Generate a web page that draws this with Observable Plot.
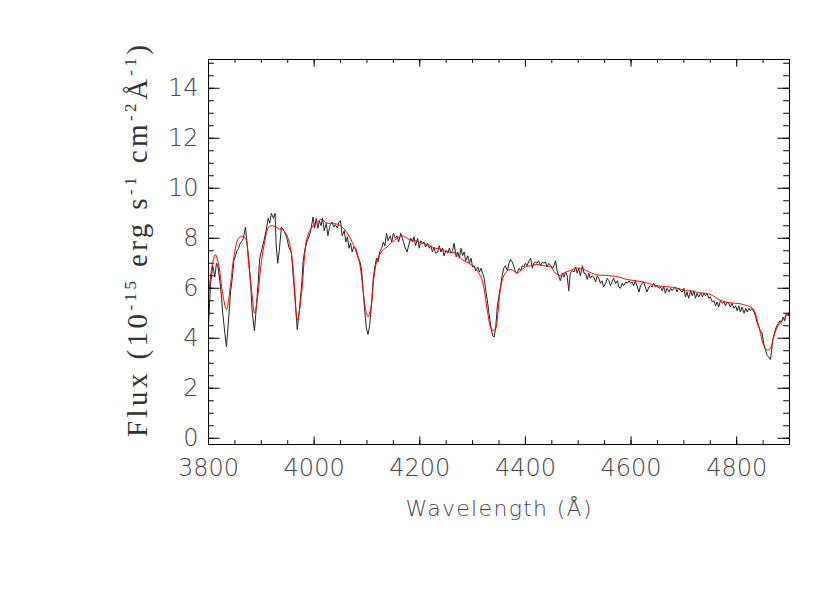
<!DOCTYPE html>
<html><head><meta charset="utf-8">
<script src="https://cdn.jsdelivr.net/npm/d3@7"></script>
<script src="https://cdn.jsdelivr.net/npm/@observablehq/plot@0.6"></script>
<style>body{margin:0;background:#fff}</style>
</head><body><div id="chart"></div>
<script>
// Observed spectrum (black)
const obsWave = [3800,3804,3808,3812,3815,3818,3823,3827,3831,3834,3837,3842,3845,3848,3851,3854,3857,3860,3864,3866,3870,3873,3876,3880,3883,3887,3890,3894,3897,3902,3905,3909,3913,3916,3919,3923,3926,3928,3931,3934,3938,3943,3948,3952,3957,3961,3964,3968,3972,3977,3979,3982,3986,3990,3993,3998,4001,4004,4007,4010,4013,4016,4019,4023,4026,4030,4034,4037,4040,4044,4047,4050,4053,4057,4060,4063,4066,4069,4072,4075,4079,4083,4087,4090,4093,4096,4099,4102,4105,4109,4112,4115,4118,4121,4124,4128,4131,4134,4137,4140,4144,4147,4150,4154,4157,4160,4164,4167,4172,4176,4180,4183,4186,4189,4192,4196,4199,4202,4205,4208,4211,4215,4218,4221,4224,4227,4230,4234,4237,4240,4243,4246,4249,4253,4256,4259,4262,4265,4269,4272,4275,4278,4281,4284,4287,4291,4294,4297,4300,4303,4306,4310,4313,4316,4319,4322,4325,4328,4331,4335,4338,4341,4344,4347,4350,4353,4356,4359,4362,4366,4369,4372,4375,4378,4381,4384,4388,4391,4394,4397,4400,4403,4407,4410,4413,4416,4419,4422,4425,4429,4432,4435,4438,4441,4444,4448,4451,4454,4457,4460,4463,4466,4470,4473,4476,4479,4482,4485,4489,4492,4495,4498,4501,4504,4508,4511,4514,4517,4520,4523,4526,4529,4533,4536,4539,4542,4545,4548,4552,4555,4558,4561,4564,4567,4571,4574,4577,4580,4583,4586,4590,4593,4596,4599,4602,4605,4608,4612,4615,4618,4621,4624,4627,4630,4634,4637,4640,4643,4646,4649,4653,4656,4659,4662,4665,4668,4672,4675,4678,4681,4684,4687,4690,4694,4697,4700,4703,4706,4709,4713,4716,4719,4722,4725,4728,4732,4735,4738,4741,4744,4747,4750,4754,4757,4760,4763,4766,4769,4773,4776,4779,4782,4785,4788,4791,4795,4798,4801,4804,4807,4810,4814,4817,4820,4823,4826,4829,4833,4836,4839,4842,4845,4848,4851,4855,4858,4861,4864,4866,4868,4872,4875,4879,4882,4885,4888,4891,4894,4898,4900];
const obsFlux = [4.5,6.2,6.9,6.45,7.0,6.85,6.05,5.0,4.2,3.65,4.45,5.9,6.4,7.1,7.3,7.5,7.6,7.8,7.9,8.0,8.45,7.8,7.2,6.05,5.0,4.3,5.1,6.2,7.2,7.65,7.9,8.3,8.8,8.6,9.0,8.8,9.0,7.8,7.0,7.5,8.45,8.3,8.05,7.65,7.45,6.3,5.65,4.35,5.1,6.3,7.05,7.5,7.85,8.05,8.25,8.85,8.4,8.8,8.4,8.7,8.5,8.8,8.3,8.6,8.1,8.5,8.65,8.45,8.55,8.4,8.65,8.7,8.1,8.3,7.85,8.05,7.6,7.8,7.45,7.65,7.6,7.25,7.05,6.7,5.85,5.05,4.4,4.15,4.5,5.45,6.4,6.85,7.2,7.05,7.45,7.6,7.85,7.7,8.2,7.9,8.1,7.85,8.2,8.0,8.1,7.85,8.2,8.0,7.65,7.45,7.8,8.0,7.85,8.05,7.7,8.0,7.6,7.9,7.8,7.85,7.65,7.8,7.6,7.7,7.45,7.65,7.4,7.45,7.7,7.45,7.6,7.3,7.5,7.4,7.6,7.4,7.5,7.8,7.25,7.45,7.2,7.6,7.3,7.45,7.1,7.3,7.0,7.2,6.85,6.9,6.7,6.85,6.65,6.8,6.6,6.4,5.9,5.5,5.0,4.4,4.1,4.05,4.5,5.3,5.7,6.1,6.5,6.8,6.9,6.7,7.0,7.15,7.05,6.9,6.65,6.6,6.8,6.7,6.9,6.85,7.0,6.9,7.1,7.2,6.8,7.0,7.05,7.0,7.1,6.9,7.05,7.0,7.05,6.85,7.0,6.9,6.8,6.9,7.1,6.7,6.5,6.3,6.6,6.45,6.65,6.5,5.9,6.6,6.7,6.65,6.85,6.6,6.8,6.5,6.9,6.6,6.6,6.35,6.6,6.4,6.5,6.45,6.25,6.5,6.4,6.2,6.3,6.05,6.2,6.4,6.3,6.1,6.25,6.4,6.2,6.3,6.05,6.0,6.2,6.1,6.25,6.2,6.3,6.2,6.25,6.1,6.3,6.05,5.85,6.1,6.2,6.25,6.05,5.85,6.05,6.1,6.05,6.2,6.05,6.1,6.0,6.05,5.9,6.05,5.8,6.0,5.85,6.0,5.9,6.0,6.05,5.85,6.0,5.9,5.85,6.0,5.65,5.85,5.6,5.9,5.7,5.9,5.6,5.8,5.65,5.8,5.65,5.8,5.7,5.8,5.6,5.65,5.45,5.5,5.3,5.45,5.25,5.5,5.4,5.45,5.3,5.45,5.4,5.25,5.4,5.2,5.3,5.1,5.3,5.05,5.25,5.0,5.2,5.05,5.2,5.1,5.2,5.05,4.85,4.6,4.45,4.3,4.2,3.8,3.5,3.3,3.25,3.15,3.5,3.9,4.25,4.45,4.6,4.7,4.65,4.85,4.7,5.0,4.9,5.1];

// Model spectrum (red)
const modelWave = [3800,3806,3813,3820,3826,3834,3842,3848,3857,3864,3870,3876,3883,3887,3893,3899,3905,3914,3920,3932,3943,3952,3960,3968,3977,3981,3987,3996,4006,4013,4025,4037,4050,4063,4075,4085,4091,4097,4102,4108,4113,4119,4129,4138,4148,4157,4167,4180,4192,4205,4218,4230,4243,4255,4268,4280,4293,4305,4315,4321,4328,4334,4339,4344,4348,4353,4359,4366,4372,4378,4384,4391,4400,4410,4422,4435,4448,4457,4466,4476,4485,4495,4504,4514,4526,4539,4552,4564,4577,4590,4602,4615,4627,4640,4653,4665,4678,4690,4703,4716,4728,4741,4754,4766,4779,4791,4804,4817,4826,4833,4839,4845,4851,4858,4864,4870,4877,4886,4896,4900];
const modelFlux = [5.6,6.8,7.35,6.85,5.9,5.15,6.2,7.25,8.0,8.08,8.0,7.0,5.65,5.0,5.65,6.85,7.7,8.45,8.5,8.4,8.3,7.9,6.85,4.72,5.95,7.1,8.05,8.45,8.65,8.75,8.6,8.6,8.5,8.2,7.7,7.1,6.25,5.2,4.85,5.3,6.4,7.1,7.5,7.65,7.85,8.0,8.1,7.95,7.9,7.8,7.7,7.6,7.55,7.45,7.4,7.15,7.0,6.8,6.5,6.05,5.1,4.45,4.3,4.4,5.05,6.0,6.5,6.7,6.75,6.7,6.6,6.7,6.85,6.9,6.95,6.9,6.85,6.6,6.5,6.65,6.7,6.8,6.8,6.72,6.6,6.52,6.52,6.49,6.45,6.36,6.32,6.28,6.23,6.15,6.09,6.07,6.04,5.99,5.9,5.89,5.82,5.8,5.72,5.55,5.45,5.41,5.39,5.32,5.25,5.12,4.72,4.2,3.72,3.52,3.6,4.05,4.45,4.72,4.92,5.0];

// Axis ticks
const xMajorTicks = [3800,4000,4200,4400,4600,4800];
const xMinorTicks = d3.range(3800, 4901, 50);
const yMajorTicks = [0,2,4,6,8,10,12,14];
const yMinorTicks = d3.range(0, 15.01, 0.5);

const xTitle = "Wavelength (Å)";

const W = 830, H = 593, mL = 208, mR = 41, mT = 59, mB = 149;
const iW = W - mL - mR, iH = H - mT - mB;

const obs = obsWave.map((w, i) => ({w, f: obsFlux[i]}));
const model = modelWave.map((w, i) => ({w, f: modelFlux[i]}));

const tickFont = "DejaVu Sans";

const svg = Plot.plot({
  width: W, height: H,
  marginLeft: mL, marginRight: mR, marginTop: mT, marginBottom: mB,
  x: {domain: [3800, 4900]},
  y: {domain: [-0.25, 15.15]},
  style: {background: "#fff", color: "#000", fontFamily: tickFont, fontSize: "24px"},
  marks: [
    Plot.line(obs, {x: "w", y: "f", stroke: "#222", strokeWidth: 1, clip: true}),
    Plot.line(model, {x: "w", y: "f", stroke: "#ff0000", strokeWidth: 1, curve: "catmull-rom", clip: true}),
    Plot.frame({stroke: "#000", strokeWidth: 1}),
    Plot.tickX(xMinorTicks, {x: d => d, insetTop: iH - 3.9, stroke: "#000"}),
    Plot.tickX(xMinorTicks, {x: d => d, insetBottom: iH - 3.9, stroke: "#000"}),
    Plot.tickX(xMajorTicks, {x: d => d, insetTop: iH - 7.7, stroke: "#000"}),
    Plot.tickX(xMajorTicks, {x: d => d, insetBottom: iH - 7.7, stroke: "#000"}),
    Plot.tickY(yMinorTicks, {y: d => d, insetRight: iW - 5.8, stroke: "#000"}),
    Plot.tickY(yMinorTicks, {y: d => d, insetLeft: iW - 5.8, stroke: "#000"}),
    Plot.tickY(yMajorTicks, {y: d => d, insetRight: iW - 11.6, stroke: "#000"}),
    Plot.tickY(yMajorTicks, {y: d => d, insetLeft: iW - 11.6, stroke: "#000"}),
    Plot.axisX(xMajorTicks, {tickSize: 0, tickPadding: 14, label: null, fontSize: 24, fill: "#444", fontWeight: 200, tickFormat: d => String(d)}),
    Plot.axisY(yMajorTicks, {tickSize: 0, tickPadding: 10, label: null, fontSize: 24, fill: "#444", fontWeight: 200, tickFormat: d => String(d)})
  ]
});

const s = d3.select(svg);
// X axis title
s.append("text")
  .attr("x", (mL + W - mR) / 2).attr("y", 516)
  .attr("text-anchor", "middle")
  .attr("font-family", tickFont).attr("font-size", 22).attr("font-weight", 200)
  .attr("fill", "#444")
  .attr("textLength", 186).attr("lengthAdjust", "spacing")
  .text(xTitle);

// Y axis title with superscripts
const yt = s.append("text")
  .attr("transform", "translate(147,241) rotate(-90)")
  .attr("text-anchor", "middle")
  .attr("font-family", "Liberation Serif, DejaVu Serif, serif")
  .attr("font-size", 29)
  .attr("fill", "#333")
  .attr("textLength", 392).attr("lengthAdjust", "spacing");
const parts = [
  ["Flux (10", false], ["-15", true], [" erg s", false], ["-1", true],
  [" cm", false], ["-2", true], ["Å", false], ["-1", true], [")", false]
];
let up = false;
for (const [t, sup] of parts) {
  const ts = yt.append("tspan").text(t);
  if (sup && !up) { ts.attr("dy", -11).attr("font-size", 17); up = true; }
  else if (sup) { ts.attr("font-size", 17); }
  else if (up) { ts.attr("dy", 11); up = false; }
}

document.getElementById("chart").appendChild(svg);
</script>
</body></html>
